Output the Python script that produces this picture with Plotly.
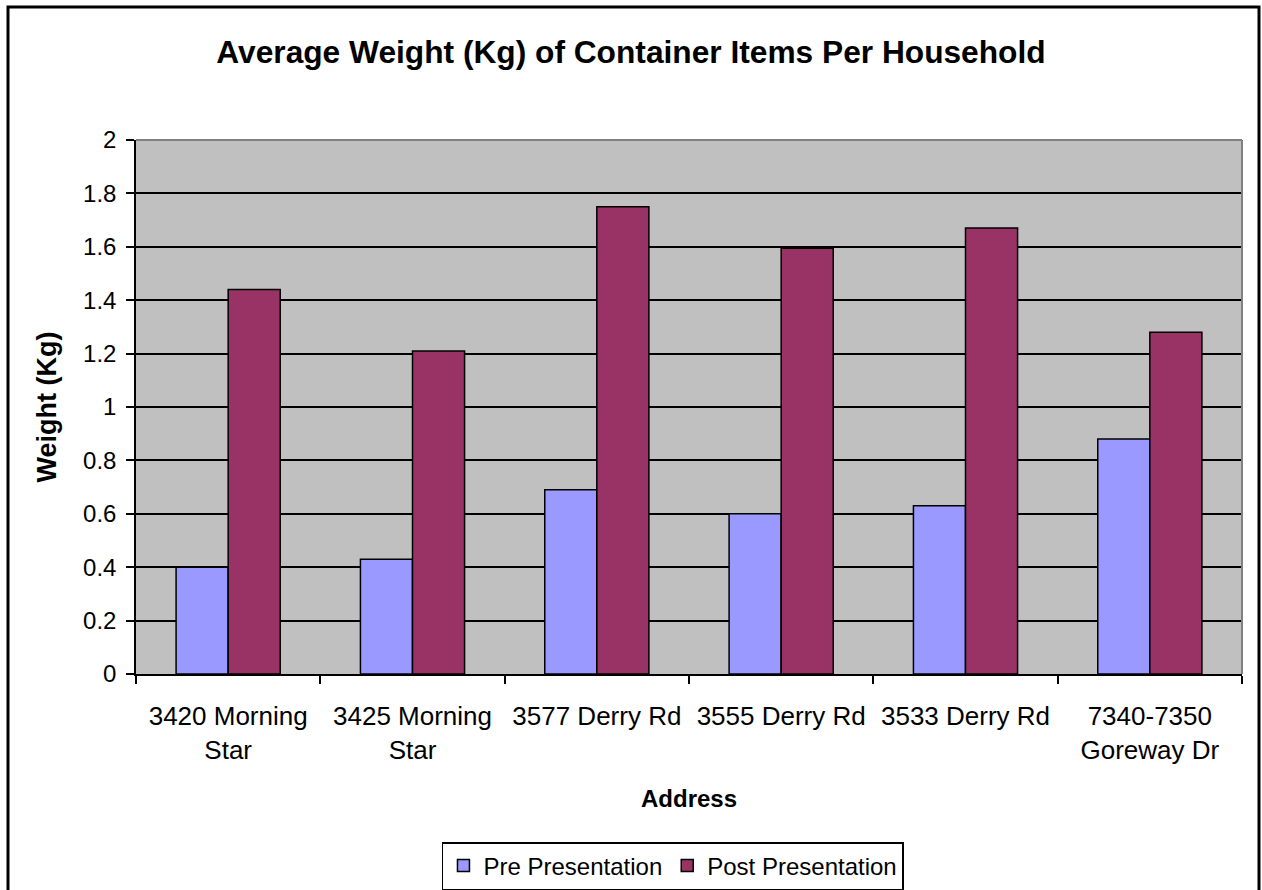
import plotly.graph_objects as go

addresses = [
    "3420 Morning<br>Star",
    "3425 Morning<br>Star",
    "3577 Derry Rd",
    "3555 Derry Rd",
    "3533 Derry Rd",
    "7340-7350<br>Goreway Dr",
]
pre_presentation = [0.40, 0.43, 0.69, 0.60, 0.63, 0.88]
post_presentation = [1.44, 1.21, 1.75, 1.595, 1.67, 1.28]
y_ticks = [0, 0.2, 0.4, 0.6, 0.8, 1, 1.2, 1.4, 1.6, 1.8, 2]

FONT = "Liberation Sans, Arial, sans-serif"

fig = go.Figure()
fig.add_trace(go.Bar(
    x=addresses, y=pre_presentation, name="Pre Presentation",
    marker=dict(color="#9999FF", line=dict(color="black", width=1.5)),
))
fig.add_trace(go.Bar(
    x=addresses, y=post_presentation, name="Post Presentation",
    marker=dict(color="#993366", line=dict(color="black", width=1.5)),
))

fig.update_layout(
    width=1262, height=890,
    margin=dict(l=136, r=20, t=140, b=216),
    paper_bgcolor="white",
    plot_bgcolor="#C0C0C0",
    barmode="group",
    bargap=0.435,
    bargroupgap=0,
    font=dict(family=FONT, size=24, color="black"),
    title=dict(
        text="<b>Average Weight (Kg) of Container Items Per Household</b>",
        x=0.5, xref="container", xanchor="center",
        y=1 - 52 / 890, yref="container", yanchor="middle",
        font=dict(size=31.7),
    ),
    xaxis=dict(
        type="category",
        tickson="boundaries",
        ticks="outside", ticklen=8, tickwidth=1.5, tickcolor="black",
        ticklabelstandoff=18,
        tickfont=dict(size=26),
        showline=True, linecolor="black", linewidth=1.5,
        showgrid=False,
    ),
    yaxis=dict(
        range=[0, 2],
        tickvals=y_ticks,
        ticktext=[f"{v:g}" for v in y_ticks],
        ticks="outside", ticklen=8, tickwidth=1.5, tickcolor="black",
        ticklabelstandoff=5,
        tickfont=dict(size=24),
        showline=True, linecolor="black", linewidth=1.5,
        showgrid=True, gridcolor="black", gridwidth=1.5,
        zeroline=False,
        title=dict(text="<b>Weight (Kg)</b>", standoff=19, font=dict(size=27)),
    ),
    # container-anchored so the legend does not push the bottom margin
    legend=dict(
        orientation="h",
        x=0.4855, xanchor="center",
        yref="container", y=1 - 866 / 890, yanchor="middle",
        bordercolor="black", borderwidth=1.5,
        font=dict(size=24),
        tracegroupgap=0,
    ),
    showlegend=True,
)

fig.add_annotation(
    text="<b>Address</b>", xref="paper", yref="paper",
    x=0.5, y=-(798 - 674) / 534, xanchor="center", yanchor="middle",
    showarrow=False, font=dict(size=24),
)

# grey frame on the top and right of the plot area
fig.add_shape(type="line", xref="paper", yref="paper", x0=0, x1=1, y0=1, y1=1,
              line=dict(color="#808080", width=2), layer="above")
fig.add_shape(type="line", xref="paper", yref="paper", x0=1, x1=1, y0=0, y1=1,
              line=dict(color="#808080", width=2), layer="above")

# outer chart border (bottom edge falls below the window)
fig.add_shape(type="rect", xref="paper", yref="paper",
              x0=(8 - 136) / 1106, x1=(1259 - 136) / 1106,
              y0=(674 - 905) / 534, y1=(674 - 7) / 534,
              line=dict(color="black", width=3), layer="above")

# drop the default 8px page margin so the figure sits at the window corner
fig.write_html(
    "out.html",
    config={"displayModeBar": False},
    post_script="document.body.style.margin='0';",
)
